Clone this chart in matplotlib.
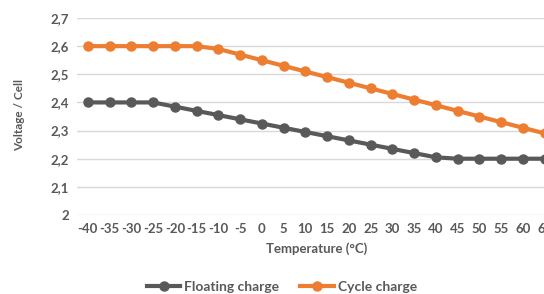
import matplotlib.pyplot as plt
import numpy as np

# Data
temperatures = [-40, -35, -30, -25, -20, -15, -10, -5, 0, 5, 10,
                15, 20, 25, 30, 35, 40, 45, 50, 55, 60, 65]
floating_charge = [2.40, 2.40, 2.40, 2.40, 2.385, 2.37, 2.355, 2.34, 2.325, 2.31, 2.295,
                   2.28, 2.265, 2.25, 2.235, 2.22, 2.205, 2.20, 2.20, 2.20, 2.20, 2.20]
cycle_charge = [2.60, 2.60, 2.60, 2.60, 2.60, 2.60, 2.59, 2.57, 2.55, 2.53, 2.51,
                2.49, 2.47, 2.45, 2.43, 2.41, 2.39, 2.37, 2.35, 2.33, 2.31, 2.29]
y_ticks = [2.0, 2.1, 2.2, 2.3, 2.4, 2.5, 2.6, 2.7]
y_tick_labels = ["2", "2,1", "2,2", "2,3", "2,4", "2,5", "2,6", "2,7"]

plt.rcParams["font.family"] = ["Lato", "DejaVu Sans"]
text_color = "#595959"

W, H = 544, 294
fig = plt.figure(figsize=(W / 100, H / 100), dpi=100)
# plot area runs past the right edge, as in the (cropped) original
left, right = 77, 555.5
top, bottom = 18, 215
ax = fig.add_axes([left / W, 1 - bottom / H, (right - left) / W, (bottom - top) / H])

x = np.arange(len(temperatures))
ax.plot(x, floating_charge, color="#595959", lw=3, marker="o", ms=6.5,
        label="Floating charge", zorder=3, clip_on=False)
ax.plot(x, cycle_charge, color="#ED7D31", lw=3, marker="o", ms=6.5,
        label="Cycle charge", zorder=3, clip_on=False)

ax.set_xlim(-0.5, len(temperatures) - 0.5)
ax.set_ylim(2.0, 2.7)
ax.set_yticks(y_ticks)
ax.set_yticklabels(y_tick_labels)
ax.set_xticks(x)
ax.set_xticklabels([str(t) for t in temperatures])
ax.grid(axis="y", color="#d9d9d9", lw=1)
ax.set_axisbelow(True)
for s in ax.spines.values():
    s.set_visible(False)
ax.tick_params(length=0, colors=text_color, labelsize=9.5, pad=6)
for lab in ax.get_xticklabels() + ax.get_yticklabels():
    lab.set_fontweight("bold")

ax.set_xlabel("Temperature (°C)", color=text_color, fontsize=9.5,
              fontweight="bold", labelpad=5)
fig.text(20 / W, 1 - 115 / H, "Voltage / Cell", rotation=90, color=text_color,
         fontsize=8.5, fontweight="bold", ha="center", va="center")

leg = fig.legend(loc="center", bbox_to_anchor=(282 / W, 1 - 287 / H), ncol=2,
                 frameon=False, fontsize=10, handlelength=2.4, columnspacing=1.5,
                 handletextpad=0.3)
for t in leg.get_texts():
    t.set_color(text_color)
    t.set_fontweight("bold")

fig.savefig("out.png", dpi=100)
